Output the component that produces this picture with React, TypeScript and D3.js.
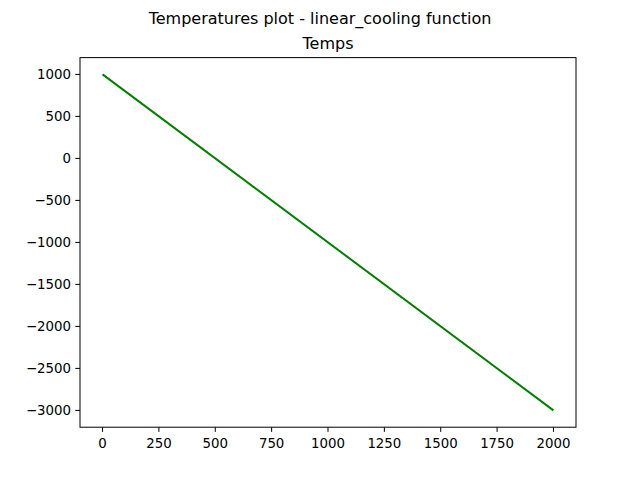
import * as d3 from 'd3'

const xs = [0, 2000]
const temps = [1000, -3000]
const xTicks = [0, 250, 500, 750, 1000, 1250, 1500, 1750, 2000]
const yTicks = [1000, 500, 0, -500, -1000, -1500, -2000, -2500, -3000]

const W = 640
const H = 480
const L = 80, R = 576, T = 57.6, B = 427.2
const FONT = 'DejaVu Sans, sans-serif'

export default function App() {
  const x = d3.scaleLinear().domain([-100, 2100]).range([L, R])
  const y = d3.scaleLinear().domain([-3200, 1200]).range([B, T])
  const pts = xs.map((v, i) => [v, temps[i]] as [number, number])
  const line = d3.line<[number, number]>().x((d) => x(d[0])).y((d) => y(d[1]))
  const fmt = (v: number) => (v < 0 ? '\u2212' + Math.abs(v) : String(v))

  return (
    <svg width={W} height={H} style={{ position: 'absolute', left: 0, top: 0, background: '#fff' }} fontFamily={FONT}>
      <text x={W / 2} y={24} textAnchor="middle" fontSize={16}>Temperatures plot - linear_cooling function</text>
      <text x={(L + R) / 2} y={49} textAnchor="middle" fontSize={16}>Temps</text>
      <path d={line(pts) ?? ''} fill="none" stroke="#008000" strokeWidth={2} />
      <rect x={L} y={T} width={R - L} height={B - T} fill="none" stroke="#000" strokeWidth={1} />
      {xTicks.map((t) => (
        <g key={t}>
          <line x1={x(t)} x2={x(t)} y1={B} y2={B + 4.7} stroke="#000" />
          <text x={x(t)} y={B + 21} textAnchor="middle" fontSize={13.33}>{fmt(t)}</text>
        </g>
      ))}
      {yTicks.map((t) => (
        <g key={t}>
          <line x1={L - 4.7} x2={L} y1={y(t)} y2={y(t)} stroke="#000" />
          <text x={L - 9} y={y(t) + 5} textAnchor="end" fontSize={13.33}>{fmt(t)}</text>
        </g>
      ))}
    </svg>
  )
}
